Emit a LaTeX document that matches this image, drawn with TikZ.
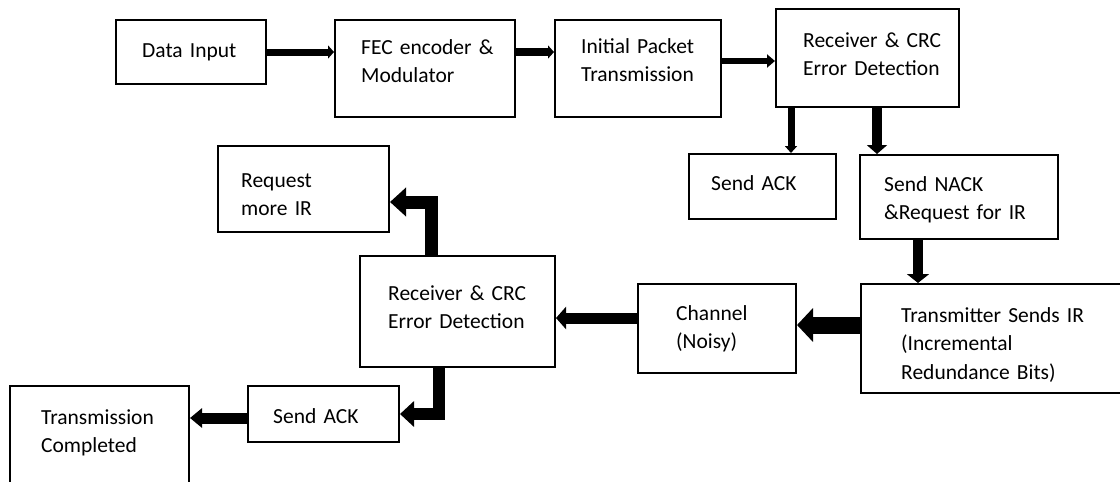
\documentclass[tikz,border=0pt]{standalone}
\usepackage{fontspec}
\setmainfont{Carlito}
\usetikzlibrary{arrows.meta,calc,fit}

\begin{document}
\begin{tikzpicture}[x=1pt,y=-1pt,
  box/.style={draw=black, line width=2pt, inner sep=0pt},
  txt/.style={anchor=base west, inner sep=0pt, text width=320pt, align=left,
              font=\fontsize{21.5}{28.5}\selectfont},
  blk/.style n args={3}{draw=black, line width=#1, line join=miter,
              -{Triangle[length=#2, width=#3]}}
]
\fill[white] (0,0) rectangle (1120,482);
\useasboundingbox (0,0) rectangle (1120,482);

% ---- blocks ----
\node[box, fit={(116,20) (266,84)}]   (di)   {};
\node[box, fit={(335,20) (515,117)}]  (fec)  {};
\node[box, fit={(555,20) (721,117)}]  (ip)   {};
\node[box, fit={(776,9) (959,107)}]   (rxa)  {};
\node[box, fit={(689,154) (836,219)}] (acka) {};
\node[box, fit={(860,155) (1058,239)}] (nack) {};
\node[box, fit={(861,284) (1135,393)}] (tx)  {};
\node[box, fit={(638,284) (796,373)}] (ch)   {};
\node[box, fit={(360,256) (555,367)}] (rxb)  {};
\node[box, fit={(218,146) (389,232)}] (req)  {};
\node[box, fit={(248,386) (399,442)}] (ackb) {};
\node[box, fit={(10,386) (189,496)}]  (done) {};

% ---- labels ----
\node[txt] (t-di)   at (142,57)  {Data Input};
\node[txt] (t-fec)  at (361,54)  {FEC encoder \&\\Modulator};
\node[txt] (t-ip)   at (581,53)  {Initial Packet\\Transmission};
\node[txt] (t-rxa)  at (803,47)  {Receiver \& CRC\\Error Detection};
\node[txt] (t-acka) at (711,190) {Send ACK};
\node[txt] (t-nack) at (884,191) {Send NACK\\\&Request for IR};
\node[txt] (t-tx)   at (901,322) {Transmitter Sends IR\\(Incremental\\Redundance Bits)};
\node[txt] (t-ch)   at (676,320) {Channel\\(Noisy)};
\node[txt] (t-rxb)  at (388,300) {Receiver \& CRC\\Error Detection};
\node[txt] (t-req)  at (241,187) {Request\\more IR};
\node[txt] (t-ackb) at (273,423) {Send ACK};
\node[txt] (t-done) at (41,424)  {Transmission\\Completed};

% ---- connector anchors ----
\coordinate (c1) at ($(fec.north east)+(0,33)$);
\coordinate (c2) at ($(ip.north east)+(0,42)$);
\coordinate (c3) at ($(rxa.south west)+(16,0)$);
\coordinate (c4) at ($(nack.north west)+(18,0)$);
\coordinate (c5) at ($(nack.south west)+(59,0)$);
\coordinate (c6) at ($(ch.north east)+(0,42)$);
\coordinate (c7) at ($(ch.north west)+(0,35)$);
\coordinate (c8) at ($(rxb.north west)+(72,0)$);
\coordinate (c8t) at ($(req.north east)+(0,57)$);
\coordinate (c9) at ($(rxb.south west)+(80,0)$);
\coordinate (c10) at ($(ackb.west)+(0,4)$);

% ---- connectors ----
\draw[blk={7pt}{6pt}{13pt}]   (di.east) -- (di.east -| fec.west);
\draw[blk={8pt}{6pt}{13pt}]   (c1) -- (c1 -| ip.west);
\draw[blk={6pt}{8pt}{13pt}]   (c2) -- (c2 -| rxa.west);
\draw[blk={7pt}{7pt}{12pt}]   (c3) -- (c3 |- acka.north);
\draw[blk={10pt}{9pt}{20pt}]  (c4 |- rxa.south) -- (c4);
\draw[blk={10pt}{9pt}{22pt}]  (c5) -- (c5 |- tx.north);
\draw[blk={17pt}{16pt}{33pt}] (c6 -| tx.west) -- (c6);
\draw[blk={11pt}{10pt}{22pt}] (c7) -- (c7 -| rxb.east);
\draw[blk={13pt}{16pt}{28pt}] (c8) |- (c8t);
\draw[blk={12pt}{14pt}{25pt}] (c9) |- (ackb.east);
\draw[blk={11pt}{12pt}{19pt}] (c10) -- (c10 -| done.east);
\end{tikzpicture}
\end{document}
